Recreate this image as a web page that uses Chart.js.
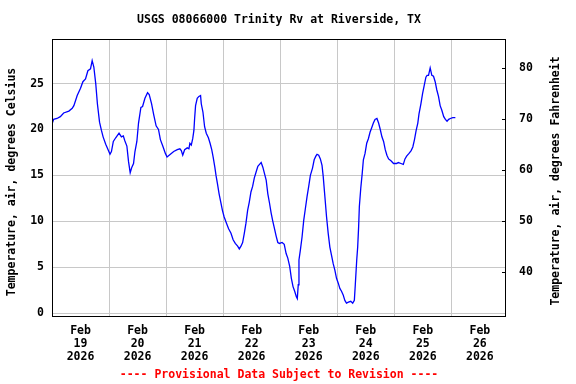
<!DOCTYPE html>
<html>
<head>
<meta charset="utf-8">
<script src="https://cdn.jsdelivr.net/npm/chart.js@4"></script>
<style>
  body { margin: 0; background: #fff; }
  canvas { display: block; }
</style>
</head>
<body>
<canvas id="tempChart" width="576" height="384"></canvas>
<script>
// hours since Feb 19 2026 00:00
const hours = [
  0, 0.7, 2.1, 3.5, 4.9, 7.1, 8.5, 9.2, 10.6, 12, 13, 14.1, 15.1, 16.2, 16.9, 17.6, 18.4, 19.1, 20, 20.8,
  21.5, 22.6, 23.6, 24.4, 25, 25.8, 26.8, 28.2, 29.2, 30, 30.6, 31.5, 32.2, 32.9, 33.6, 34.3, 34.9, 35.7, 36.4, 37.4,
  38.1, 39.1, 40.2, 40.9, 41.9, 42.8, 43.8, 44.8, 45.6, 46.6, 47.7, 48.4, 49.8, 51.2, 52.7, 53.8, 54.4, 55, 55.8, 56.9,
  57.6, 58, 58.6, 59.2, 59.7, 60, 60.4, 61.1, 61.8, 62.5, 62.8, 63.5, 64.2, 64.9, 65.8, 66.5, 67.2, 67.8, 68.5, 69,
  69.6, 70.3, 71, 71.7, 72.4, 73.4, 74.3, 75.3, 76.2, 77.1, 78.1, 78.8, 79.5, 80.2, 80.9, 81.6, 82.3, 83, 83.7, 84.4,
  85.1, 85.9, 86.6, 87.3, 88, 88.7, 89.4, 90.1, 90.8, 91.5, 92.2, 92.9, 93.6, 94.3, 95, 95.7, 96.8, 97.7, 98.5, 99.2,
  100, 100.7, 101.4, 102.1, 102.8, 103.2, 103.6, 103.9, 104.5, 105.2, 105.9, 106.6, 107.3, 108, 108.7, 109.6, 110.3, 111, 111.5, 112.2,
  112.9, 113.6, 114.1, 114.8, 115.5, 116.2, 116.9, 117.6, 118.3, 119, 119.7, 120.4, 121.1, 121.8, 122.5, 123.2, 123.9, 124.7, 125.7, 126.5,
  127.2, 127.6, 128.2, 128.6, 129, 129.3, 129.9, 130.5, 131, 131.7, 132.4, 133.1, 133.8, 134.5, 135.2, 135.9, 136.7, 137.4, 138.1, 138.8,
  139.5, 140.2, 140.9, 141.6, 142.6, 143.7, 144.9, 145.7, 146.8, 147.8, 148.5, 149.2, 150.2, 151.1, 151.8, 152.5, 153.2, 153.9, 154.4, 155.2,
  155.9, 156.6, 157.3, 157.8, 158.4, 159.1, 159.8, 160.5, 161.2, 161.9, 162.6, 163.3, 164, 164.8, 165.5, 166.2, 166.9, 167.6, 168.6, 169.7
];
const tempC = [
  20.6, 21.1, 21.2, 21.4, 21.8, 22.0, 22.3, 22.6, 23.7, 24.5, 25.2, 25.5, 26.4, 26.6, 27.5, 26.8, 25.0, 22.8, 20.8, 19.9,
  19.2, 18.4, 17.8, 17.3, 17.6, 18.7, 19.1, 19.6, 19.2, 19.3, 18.8, 18.2, 16.5, 15.3, 15.9, 16.3, 17.6, 18.7, 20.7, 22.4,
  22.5, 23.4, 24.0, 23.8, 22.8, 21.6, 20.4, 20.0, 18.9, 18.2, 17.4, 17.0, 17.3, 17.6, 17.8, 17.9, 17.7, 17.2, 17.8, 18.0,
  17.9, 18.5, 18.3, 19.0, 19.9, 21.2, 22.6, 23.4, 23.6, 23.7, 22.8, 21.9, 20.3, 19.6, 19.1, 18.5, 17.8, 17.0, 15.9, 15.0,
  14.1, 13.0, 12.1, 11.2, 10.5, 9.8, 9.2, 8.7, 8.0, 7.6, 7.3, 7.0, 7.3, 7.7, 8.7, 9.8, 11.2, 12.1, 13.2, 13.8,
  14.7, 15.4, 16.0, 16.2, 16.4, 15.9, 15.2, 14.5, 13.0, 12.0, 10.9, 10.0, 9.2, 8.4, 7.7, 7.6, 7.7, 7.5, 6.5, 6.0,
  5.1, 3.8, 2.9, 2.4, 1.8, 1.6, 3.1, 5.8, 6.9, 8.3, 10.1, 11.4, 12.7, 13.8, 15.0, 15.8, 16.7, 17.1, 17.3, 17.2,
  16.8, 16.1, 14.9, 12.7, 10.5, 8.7, 7.2, 6.3, 5.4, 4.7, 3.8, 3.3, 2.7, 2.4, 2.0, 1.4, 1.1, 1.2, 1.3, 1.1,
  1.4, 3.1, 5.8, 7.2, 9.4, 11.6, 13.6, 15.2, 16.7, 17.4, 18.5, 19.0, 19.7, 20.2, 20.7, 21.1, 21.2, 20.7, 20.0, 19.2,
  18.7, 17.8, 17.2, 16.8, 16.6, 16.3, 16.3, 16.4, 16.3, 16.2, 16.8, 17.1, 17.4, 17.7, 18.1, 18.9, 19.9, 20.7, 21.7, 22.8,
  23.9, 24.8, 25.7, 25.9, 25.9, 26.7, 25.9, 25.8, 25.2, 24.3, 23.6, 22.6, 22.1, 21.4, 21.1, 20.9, 21.1, 21.2, 21.3, 21.3
];

const dayLabels = ['19', '20', '21', '22', '23', '24', '25', '26'];
const monthLabel = 'Feb';
const yearLabel = '2026';
const celsiusTicks = [0, 5, 10, 15, 20, 25];
const fahrenheitTicks = [40, 50, 60, 70, 80];

const titleText = 'USGS 08066000 Trinity Rv at Riverside, TX';
const footerText = '---- Provisional Data Subject to Revision ----';
const leftTitle = 'Temperature, air, degrees Celsius';
const rightTitle = 'Temperature, air, degrees Fahrenheit';

const cMin = -0.3, cMax = 29.85;
const toF = c => c * 9 / 5 + 32;
const FONT = "'DejaVu Sans Mono', monospace";
const font = { family: FONT, size: 11.5, weight: 'bold' };

const points = hours.map((h, i) => ({ x: h, y: tempC[i] }));

const xTicks = [];
for (let h = 0; h <= 180; h += 12) xTicks.push(h);

const framePlugin = {
    id: 'frame',
    afterDraw(chart) {
        const ctx = chart.ctx;
        const a = chart.chartArea;
        const cx = (a.left + a.right) / 2;
        ctx.save();
        ctx.strokeStyle = '#000';
        ctx.lineWidth = 1;
        ctx.strokeRect(a.left + 0.5, a.top + 0.5, a.right - a.left - 1, a.bottom - a.top);

        // inner tick marks on the Fahrenheit side
        const y2 = chart.scales.y2;
        fahrenheitTicks.forEach(f => {
            const py = Math.round(y2.getPixelForValue(f)) + 0.5;
            ctx.beginPath();
            ctx.moveTo(a.right - 4, py);
            ctx.lineTo(a.right, py);
            ctx.stroke();
        });

        ctx.font = 'bold 11.5px ' + FONT;
        ctx.fillStyle = '#000';
        ctx.textAlign = 'center';
        ctx.textBaseline = 'middle';
        ctx.fillText(titleText, cx, 20);

        ctx.save();
        ctx.translate(12, 182);
        ctx.rotate(-Math.PI / 2);
        ctx.fillText(leftTitle, 0, 0);
        ctx.restore();

        ctx.save();
        ctx.translate(556, 181);
        ctx.rotate(-Math.PI / 2);
        ctx.fillText(rightTitle, 0, 0);
        ctx.restore();

        ctx.fillStyle = '#ff0000';
        ctx.fillText(footerText, cx, 375);
        ctx.restore();
    }
};

const ctx = document.getElementById('tempChart').getContext('2d');

new Chart(ctx, {
    type: 'line',
    data: {
        datasets: [
            {
                data: points,
                borderColor: '#0000ff',
                borderWidth: 1.3,
                pointRadius: 0,
                tension: 0,
                fill: false
            }
        ]
    },
    options: {
        responsive: false,
        animation: false,
        layout: { padding: { top: 39, bottom: 0, left: 0, right: 0 } },
        scales: {
            x: {
                type: 'linear',
                min: 0,
                max: 191,
                afterBuildTicks: axis => { axis.ticks = xTicks.map(v => ({ value: v })); },
                afterFit: axis => { axis.height = 68; },
                border: { display: false },
                grid: {
                    drawTicks: false,
                    color: c => (c.tick && c.tick.value > 0 && c.tick.value % 24 === 0) ? '#c8c8c8' : 'rgba(0,0,0,0)'
                },
                ticks: {
                    autoSkip: false,
                    maxRotation: 0,
                    padding: 9,
                    color: '#000',
                    font: { family: FONT, size: 11.5, weight: 'bold', lineHeight: 1.13 },
                    callback: v => v % 24 === 12 ? [monthLabel, dayLabels[(v - 12) / 24], yearLabel] : ''
                }
            },
            y: {
                position: 'left',
                min: cMin,
                max: cMax,
                afterBuildTicks: axis => { axis.ticks = celsiusTicks.map(v => ({ value: v })); },
                afterFit: axis => { axis.width = 52; },
                border: { display: false },
                grid: { drawTicks: false, color: '#c8c8c8' },
                ticks: { padding: 8, color: '#000', font: font }
            },
            y2: {
                position: 'right',
                min: toF(cMin),
                max: toF(cMax),
                afterBuildTicks: axis => { axis.ticks = fahrenheitTicks.map(v => ({ value: v })); },
                afterFit: axis => { axis.width = 70; },
                border: { display: false },
                grid: { drawTicks: false, drawOnChartArea: false },
                ticks: { padding: 13, color: '#000', font: font }
            }
        },
        plugins: {
            legend: { display: false },
            title: { display: false },
            tooltip: { enabled: false }
        }
    },
    plugins: [framePlugin]
});
</script>
</body>
</html>
